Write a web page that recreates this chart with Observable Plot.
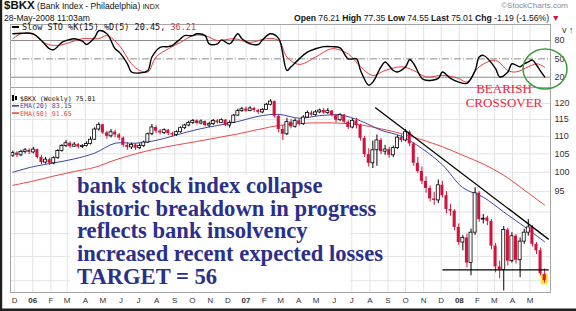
<!DOCTYPE html>
<html><head><meta charset="utf-8">
<script src="https://cdn.jsdelivr.net/npm/d3@7"></script>
<script src="https://cdn.jsdelivr.net/npm/@observablehq/plot@0.6"></script>
<style>
body{margin:0;background:#fff;}
#wrap{position:relative;width:576px;height:311px;overflow:hidden;background:#fff;font-family:"Liberation Sans",Arial,sans-serif;}
#wrap > svg, #wrap > div{position:absolute;left:0;}
</style></head><body><div id="wrap"></div>
<script>
// ---------- data ----------
const weekStart = "2005-11-28", weekStop = "2008-05-27";
const opens = [104.5,105.2,104.6,105.5,106.0,105.4,106.2,104.0,102.6,103.4,102.4,103.8,105.8,107.2,108.0,107.0,107.6,106.9,107.2,107.8,
109.0,112.0,113.4,111.0,110.0,111.2,110.4,109.5,107.4,106.8,107.5,106.6,107.2,108.2,110.6,112.6,111.5,111.0,111.8,110.8,
110.4,111.2,112.4,113.2,114.0,114.6,113.8,114.4,113.2,113.6,114.6,114.0,114.8,113.2,114.0,116.2,117.6,118.2,117.6,118.4,
117.8,117.2,118.0,119.6,120.6,116.0,112.0,110.6,114.2,112.8,114.6,113.6,115.6,117.0,116.4,117.2,117.8,117.0,117.6,116.2,
114.8,116.4,114.2,112.6,114.6,113.2,109.4,104.8,102.4,106.0,108.8,105.6,106.2,104.6,106.6,109.6,108.8,111.2,107.8,102.4,
100.2,97.6,95.8,93.2,92.8,96.6,94.0,90.6,90.2,86.4,83.0,84.0,78.6,85.2,94.6,88.2,88.6,87.8,82.2,77.8,
77.2,85.8,79.0,84.4,79.2,83.2,85.2,86.4,82.6,81.2,76.21];
const highs = [105.8,105.6,106.0,106.5,106.4,106.8,106.3,104.5,104.0,103.8,104.2,106.2,107.6,108.8,108.4,108.2,107.9,107.6,108.4,109.8,
112.5,114.0,113.6,111.5,112.0,111.8,110.8,109.8,108.2,108.0,107.9,107.8,108.6,111.0,113.5,113.0,112.0,112.2,112.0,111.2,
111.6,112.8,113.6,114.5,115.0,114.9,114.9,114.6,114.2,115.0,115.0,115.2,115.0,114.6,116.6,118.2,118.8,118.9,119.0,118.8,
118.2,118.4,120.0,121.2,120.8,116.4,113.2,115.4,115.0,115.2,115.2,116.2,117.6,117.6,117.8,118.2,118.4,118.4,117.8,116.6,
116.8,116.6,114.6,115.2,115.4,113.6,110.0,106.4,108.6,110.4,109.4,107.4,106.8,107.2,110.2,110.4,112.0,111.6,108.2,104.0,
101.4,98.8,96.4,94.8,98.0,97.6,95.0,91.8,90.6,87.2,84.6,84.8,86.0,96.0,95.0,89.4,89.0,88.2,82.8,79.0,
86.6,86.2,85.2,84.8,84.0,86.0,88.2,86.8,83.0,81.8,77.35];
const lows = [104.0,104.0,104.2,105.0,104.8,105.0,103.6,102.0,102.2,101.8,102.0,103.5,105.5,106.8,106.6,106.8,106.4,106.5,106.9,107.5,
108.8,111.5,110.5,109.2,109.5,109.6,108.8,106.8,106.0,106.2,106.0,106.2,106.8,108.0,110.2,110.8,110.4,110.5,110.2,109.8,
110.0,110.9,112.0,112.8,113.5,113.4,113.4,112.8,112.6,113.2,113.6,113.8,112.8,112.4,113.8,116.0,117.2,117.2,117.4,117.2,
116.6,116.8,117.8,119.2,115.4,111.0,108.8,110.2,112.2,112.4,113.0,113.2,115.4,116.0,116.0,116.8,116.6,116.6,115.8,114.0,
114.4,113.6,112.0,112.2,112.2,108.6,104.0,101.4,101.0,101.6,104.8,104.6,103.8,104.0,106.2,108.2,108.4,107.0,101.6,99.6,
96.8,94.6,92.4,91.6,92.0,93.4,89.6,89.0,85.6,82.4,81.2,77.6,76.0,84.6,87.6,87.2,86.8,81.4,76.6,75.4,
73.0,78.0,78.6,78.4,75.6,82.6,84.4,82.0,80.4,76.0,74.55];
const closes = [105.2,104.6,105.5,106.0,105.4,106.2,104.0,102.6,103.4,102.4,103.8,105.8,107.2,108.0,107.0,107.6,106.9,107.2,107.8,109.0,
112.0,113.4,111.0,110.0,111.2,110.4,109.5,107.4,106.8,107.5,106.6,107.2,108.2,110.6,112.6,111.5,111.0,111.8,110.8,110.4,
111.2,112.4,113.2,114.0,114.6,113.8,114.4,113.2,113.6,114.6,114.0,114.8,113.2,114.0,116.2,117.6,118.2,117.6,118.4,117.8,
117.2,118.0,119.6,120.6,116.0,112.0,110.6,114.2,112.8,114.6,113.6,115.6,117.0,116.4,117.2,117.8,117.0,117.6,116.2,114.8,
116.4,114.2,112.6,114.6,113.2,109.4,104.8,102.4,106.0,108.8,105.6,106.2,104.6,106.6,109.6,108.8,111.2,107.8,102.4,100.2,
97.6,95.8,93.2,92.8,96.6,94.0,90.6,90.2,86.4,83.0,84.0,78.6,85.2,94.6,88.2,88.4,87.8,82.2,77.8,77.2,
85.8,79.0,84.4,79.2,83.2,85.2,86.4,82.6,81.2,76.4,75.01];

const emaIdx = [0,5,10,15,20,25,30,35,40,45,50,55,60,65,70,75,80,85,90,95,100,105,110,115,120,125,130];
const ema20 = [100.0,101.5,102.5,103.6,105.2,108.0,108.0,108.8,110.4,112.0,113.2,114.4,116.0,116.6,115.4,116.2,116.4,114.6,111.8,110.0,106.5,102.0,96.0,93.6,90.0,86.6,83.15];
const ema50 = [96.6,97.7,99.0,100.2,101.3,103.3,105.0,106.4,107.5,108.5,109.6,110.7,112.0,113.2,113.8,114.0,113.9,113.4,112.2,110.8,109.0,107.0,104.6,102.2,99.2,95.4,91.65];

const kIdx = [0,2,5,7,9,10,12,13,15,17,18,20,21,23,25,26,28,29,31,33,34,36,38,39,41,42,44,45,47,48,50,51,53,55,56,58,60,61,63,65,67,68,70,72,74,76,78,80,82,84,85,87,88,90,91,93,94,96,97,98,100,101,104,105,107,109,111,113,114,115,118,119,121,122,124,125,126,127,128,129,130];
const kVals = [91,92,91,80,66.5,65,77,80,83,79,73.5,85,96,91,66.5,61,42,28.6,27,31,53,69,70,72,83,88,88,91,88,74.6,74.6,81,74.6,91,83,74.6,73.5,81,91,83,31,37,50,61,66.5,70,70,68,50,50,31,7,12,37,45,31,28.6,37,49,42,18,15,18,28.6,18,12,10,31,53,55.7,34,20.5,28.6,42,37,42,45,48,40,30,20.45];
const dIdx = [0,2,5,8,11,14,17,21,23,26,29,31,33,35,38,41,44,47,50,54,58,62,65,67,70,74,78,82,85,88,91,95,98,101,105,109,111,114,118,121,123,126,127,128,129,130];
const dVals = [83,91,90,75,72,77,83,83,88,72,42,31,28.6,53,66.5,77,88,88,80,83,77,83,80,53,41,53,66.5,58,37,23,31,37,31,20.5,23,18,12,37,47.5,31,28.6,37,40,42,40,36.21];

const monthLabels = ["D","06","F","M","A","M","J","J","A","S","O","N","D","07","F","M","A","M","J","J","A","S","O","N","D","08","F","M","A","M"];
const priceTicks = [75,80,85,90,95,100,105,110,115,120];
const stoTicks = [20,50,80];
const trendDates = ["2007-08-10","2008-06-02"], trendVals = [118.7,83.7];
const supportDates = ["2007-12-03","2008-06-02"], supportVals = [77.2,77.2];
const highlightLo = 74.2, highlightHi = 76.4;

// ---------- build ----------
const weeks = d3.utcMonday.range(new Date(weekStart), new Date(weekStop));
const candles = weeks.map((d,i)=>({date:d,o:opens[i],h:highs[i],l:lows[i],c:closes[i]}));
const up = candles.filter(d=>d.c>=d.o), dn = candles.filter(d=>d.c<d.o);
const e20 = emaIdx.map((w,i)=>({date:weeks[w],v:ema20[i]}));
const e50 = emaIdx.map((w,i)=>({date:weeks[w],v:ema50[i]}));
const kData = kIdx.map((w,i)=>({date:weeks[w],v:kVals[i]}));
const dData = dIdx.map((w,i)=>({date:weeks[w],v:dVals[i]}));
const months = d3.utcMonth.range(new Date("2005-12-01"), new Date("2008-06-01"));
const labelOf = new Map(months.map((m,i)=>[+m, monthLabels[i]]));
const yearTicks = months.filter(m=>/\d/.test(labelOf.get(+m)));
const monTicks = months.filter(m=>!/\d/.test(labelOf.get(+m)));
const xDomain = [new Date("2005-11-24"), new Date("2008-06-05")];
const DAY = 864e5, half = 2.6*DAY;
const last = candles[candles.length-1];

const RED = "#d1123c", GRID = "#e3e3e3";
const style = {fontFamily:"Liberation Sans, Arial, sans-serif", fontSize:"8px", color:"#333", background:"transparent", overflow:"visible"};

const sto = Plot.plot({
  width:576, height:65, marginTop:1, marginBottom:1, marginLeft:10, marginRight:26, style,
  x:{type:"utc", domain:xDomain, axis:null},
  y:{domain:[3.2,106.2], axis:null},
  marks:[
    Plot.ruleX(months,{stroke:GRID}),
    Plot.ruleY([20,80],{stroke:"#8a8a8a"}),
    Plot.ruleY([50],{stroke:"#8a8a8a", strokeDasharray:"7,2,1,2"}),
    Plot.line(dData,{x:"date",y:"v",stroke:"#e23a3f",strokeWidth:1,curve:"catmull-rom"}),
    Plot.line(kData,{x:"date",y:"v",stroke:"#000",strokeWidth:1.4,curve:"catmull-rom"}),
    Plot.frame({stroke:"#a5a5a5"}),
    Plot.axisY(stoTicks,{anchor:"right",tickSize:0,tickPadding:4,fontSize:9})
  ]
});
sto.style.top = "23px";

const main = Plot.plot({
  width:576, height:224, marginTop:1, marginBottom:18, marginLeft:10, marginRight:26, style,
  x:{type:"utc", domain:xDomain, axis:null},
  y:{type:"log", domain:[72.7,125.2], axis:null},
  marks:[
    Plot.ruleX(months,{stroke:GRID}),
    Plot.ruleY(priceTicks,{stroke:GRID}),
    Plot.line(e50,{x:"date",y:"v",stroke:"#e8464b",strokeWidth:1,curve:"catmull-rom"}),
    Plot.line(e20,{x:"date",y:"v",stroke:"#3a47a5",strokeWidth:1,curve:"catmull-rom"}),
    Plot.rect([last],{x1:d=>new Date(+d.date-6*DAY),x2:d=>new Date(+d.date+6*DAY),y1:()=>highlightLo,y2:()=>highlightHi,fill:"#ffe81a"}),
    Plot.ruleX(dn,{x:"date",y1:"l",y2:"h",stroke:RED,strokeWidth:1}),
    Plot.ruleX(up,{x:"date",y1:"l",y2:"h",stroke:"#000",strokeWidth:1}),
    Plot.rect(dn,{x1:d=>new Date(+d.date-half),x2:d=>new Date(+d.date+half),y1:"o",y2:"c",fill:RED}),
    Plot.rect(up,{x1:d=>new Date(+d.date-half),x2:d=>new Date(+d.date+half),y1:"o",y2:"c",fill:"#fff",stroke:"#000",strokeWidth:0.8}),
    Plot.link([0],{x1:()=>new Date(trendDates[0]),x2:()=>new Date(trendDates[1]),y1:()=>trendVals[0],y2:()=>trendVals[1],stroke:"#000",strokeWidth:1.3}),
    Plot.link([0],{x1:()=>new Date(supportDates[0]),x2:()=>new Date(supportDates[1]),y1:()=>supportVals[0],y2:()=>supportVals[1],stroke:"#000",strokeWidth:1.3}),
    Plot.frame({stroke:"#a5a5a5"}),
    Plot.axisY(priceTicks,{anchor:"right",tickSize:0,tickPadding:4,fontSize:9}),
    Plot.axisX(monTicks,{tickSize:0,tickPadding:5,fontSize:8,tickFormat:d=>labelOf.get(+d)}),
    Plot.axisX(yearTicks,{tickSize:0,tickPadding:5,fontSize:8,fontWeight:"bold",tickFormat:d=>labelOf.get(+d)})
  ]
});
main.style.top = "86px";

const wrap = document.getElementById("wrap");
wrap.appendChild(sto);
wrap.appendChild(main);

// ---------- overlay text / annotations ----------
const ns = "http://www.w3.org/2000/svg";
const ov = document.createElementNS(ns,"svg");
ov.setAttribute("width",576); ov.setAttribute("height",311);
ov.style.top="0px";
ov.innerHTML = `
<rect x="0" y="0" width="2.2" height="311" fill="#1e1e1e"/>
<rect x="0" y="308.5" width="576" height="2.5" fill="#1e1e1e"/>
<g font-family="Liberation Sans, Arial, sans-serif" fill="#111">
  <text x="4" y="9"><tspan font-size="11.5" font-weight="bold">$BKX</tspan><tspan font-size="8.6"> (Bank Index - Philadelphia) </tspan><tspan font-size="7">INDX</tspan></text>
  <text x="4" y="21" font-size="8.6">28-May-2008 11:03am</text>
  <text x="568" y="8" font-size="8" fill="#8a8a8a" text-anchor="end">©StockCharts.com</text>
  <text x="560" y="21" font-size="8.6" text-anchor="end"><tspan font-weight="bold">Open</tspan> 76.21 <tspan font-weight="bold">High</tspan> 77.35 <tspan font-weight="bold">Low</tspan> 74.55 <tspan font-weight="bold">Last</tspan> 75.01 <tspan font-weight="bold">Chg</tspan> -1.19 (-1.56%) <tspan fill="#d1123c">▼</tspan></text>
</g>
<g font-family="DejaVu Sans Mono, monospace">
  <rect x="12" y="26" width="7" height="2" fill="#000"/>
  <text x="22" y="30" font-size="8.5" fill="#111">Slow STO %K(15) %D(5) 20.45, <tspan fill="#e23a3f">36.21</tspan></text>
  <rect x="12" y="95" width="2" height="6" fill="#000"/><rect x="15" y="96" width="2" height="4" fill="#000"/>
  <text x="20" y="101" font-size="6.6" fill="#111">$BKX (Weekly) 75.01</text>
  <rect x="12" y="105" width="7" height="1.6" fill="#3a47a5"/>
  <text x="20" y="108.3" font-size="6.6" fill="#3a47a5">EMA(20) 83.15</text>
  <rect x="12" y="112.3" width="7" height="1.6" fill="#e8464b"/>
  <text x="20" y="115.6" font-size="6.6" fill="#e8464b">EMA(50) 91.65</text>
</g>
<rect x="70" y="175" width="280" height="116" fill="#fff"/>
<g font-family="Liberation Serif, Times New Roman, serif" font-weight="bold" font-size="22.6" fill="#2b2f8c">
  <text x="77" y="193">bank stock index collapse</text>
  <text x="77" y="215.7">historic breakdown in progress</text>
  <text x="77" y="238.4">reflects bank insolvency</text>
  <text x="77" y="261.1">increased recent expected losses</text>
  <text x="77" y="283.8">TARGET = 56</text>
</g>
<g font-family="Liberation Serif, Times New Roman, serif" font-size="13" fill="#e8283c" text-anchor="middle">
  <text x="504" y="93">BEARISH</text>
  <text x="504" y="107">CROSSOVER</text>
</g>
<ellipse cx="545" cy="69" rx="22" ry="20" fill="none" stroke="#3f9b3f" stroke-width="1.5"/>
`;
wrap.appendChild(ov);
</script></body></html>
